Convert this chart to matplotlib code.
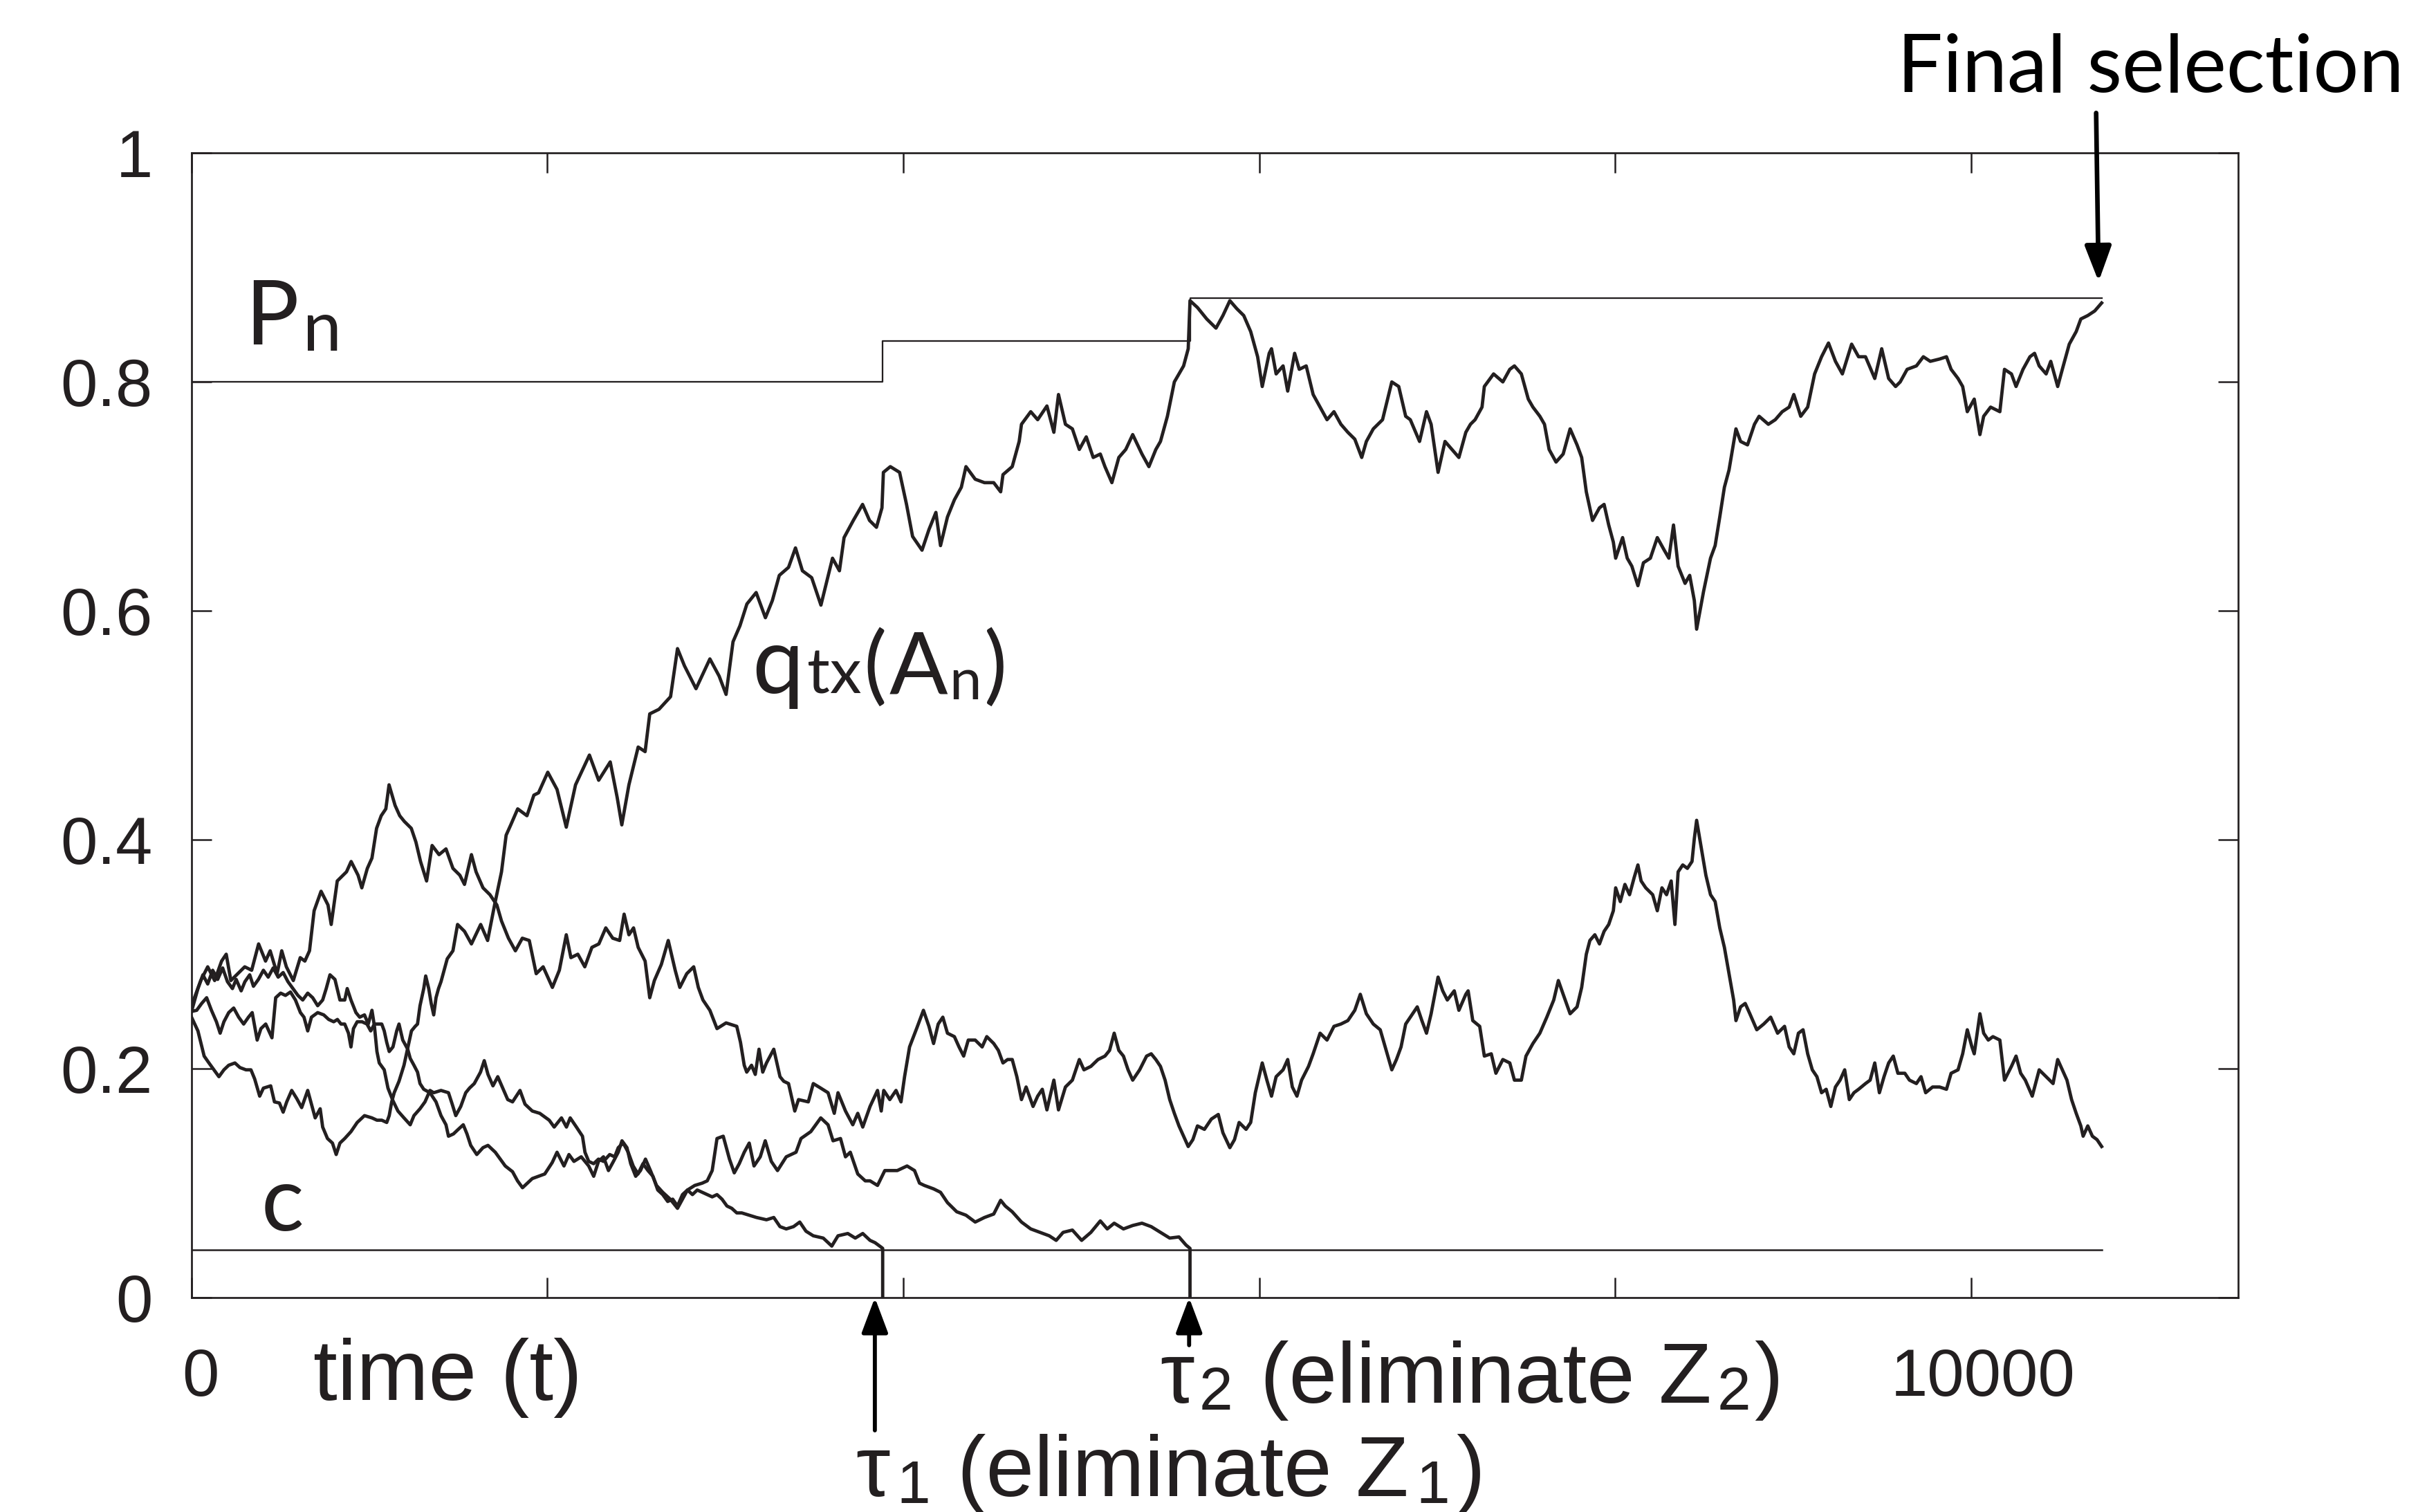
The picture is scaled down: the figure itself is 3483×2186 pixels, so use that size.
import matplotlib
matplotlib.use("Agg")
import matplotlib.pyplot as plt
from matplotlib.transforms import offset_copy

# ---------------- data ----------------
tau1 = 3884
tau2 = 5611
t_end = 10734

# q_tx(A_n): the surviving alternative
a_t = [0, 36, 71, 98, 126, 154, 182, 209, 244, 272,
       306, 334, 355, 383, 404, 445, 466, 494, 515, 535,
       563, 591, 619, 653, 674, 695, 723, 737, 764, 792,
       813, 834, 861, 896, 931, 972, 1014, 1042, 1069, 1097,
       1111, 1125, 1139, 1166, 1194, 1208, 1222, 1236, 1257, 1270,
       1284, 1305, 1316, 1333, 1347, 1361, 1374, 1388, 1402, 1423,
       1437, 1469, 1495, 1534, 1573, 1625, 1664, 1703, 1742, 1768,
       1794, 1833, 1885, 1924, 1950, 2002, 2054, 2106, 2158, 2236,
       2288, 2353, 2392, 2418, 2458, 2510, 2549, 2575, 2627, 2692,
       2731, 2770, 2835, 2913, 2965, 3004, 3043, 3082, 3121, 3173,
       3225, 3264, 3303, 3355, 3394, 3433, 3485, 3537, 3602, 3641,
       3667, 3719, 3771, 3810, 3849, 3880, 3888, 3927, 3979, 4018,
       4052, 4105, 4144, 4183, 4209, 4248, 4287, 4326, 4352, 4404,
       4456, 4508, 4547, 4560, 4612, 4651, 4664, 4716, 4755, 4807,
       4846, 4872, 4911, 4950, 4989, 5028, 5067, 5107, 5133, 5172,
       5211, 5250, 5289, 5341, 5380, 5419, 5445, 5484, 5523, 5575,
       5601, 5611, 5653, 5705, 5757, 5796, 5835, 5874, 5913, 5952,
       5991, 6017, 6056, 6069, 6095, 6134, 6160, 6199, 6225, 6264,
       6303, 6342, 6381, 6420, 6459, 6498, 6537, 6576, 6602, 6641,
       6693, 6745, 6784, 6823, 6849, 6901, 6940, 6966, 7005, 7044,
       7083, 7122, 7161, 7187, 7213, 7252, 7265, 7317, 7369, 7408,
       7434, 7473, 7512, 7538, 7577, 7603, 7629, 7668, 7708, 7747,
       7786, 7812, 7838, 7873, 7912, 7938, 7964, 7990, 8003, 8042,
       8068, 8094, 8128, 8159, 8198, 8237, 8276, 8302, 8328, 8354,
       8393, 8419, 8445, 8458, 8497, 8536, 8562, 8588, 8614, 8640,
       8679, 8705, 8744, 8783, 8809, 8861, 8900, 8939, 8978, 9004,
       9043, 9082, 9121, 9160, 9199, 9238, 9277, 9329, 9368, 9407,
       9459, 9498, 9537, 9576, 9602, 9641, 9693, 9732, 9771, 9823,
       9862, 9888, 9927, 9953, 9979, 10018, 10050, 10071, 10110, 10162,
       10188, 10227, 10253, 10292, 10331, 10357, 10383, 10422, 10448, 10487,
       10513, 10552, 10591, 10617, 10656, 10695, 10734]
a_v = [0.245, 0.233, 0.211, 0.205, 0.199, 0.193, 0.199, 0.203, 0.205, 0.201,
       0.199, 0.199, 0.191, 0.176, 0.183, 0.185, 0.171, 0.170, 0.162, 0.171,
       0.181, 0.174, 0.166, 0.181, 0.169, 0.157, 0.165, 0.149, 0.139, 0.135,
       0.125, 0.135, 0.139, 0.145, 0.153, 0.159, 0.157, 0.155, 0.155, 0.153,
       0.159, 0.171, 0.179, 0.189, 0.203, 0.213, 0.223, 0.233, 0.237, 0.239,
       0.255, 0.270, 0.281, 0.270, 0.257, 0.247, 0.262, 0.270, 0.276, 0.288,
       0.296, 0.303, 0.326, 0.320, 0.309, 0.326, 0.312, 0.343, 0.372, 0.404,
       0.413, 0.427, 0.421, 0.439, 0.441, 0.459, 0.444, 0.411, 0.448, 0.474,
       0.452, 0.468, 0.437, 0.413, 0.448, 0.481, 0.477, 0.510, 0.514, 0.525,
       0.567, 0.552, 0.532, 0.558, 0.543, 0.527, 0.573, 0.587, 0.606, 0.616,
       0.594, 0.609, 0.631, 0.638, 0.655, 0.635, 0.629, 0.605, 0.646, 0.635,
       0.664, 0.679, 0.693, 0.679, 0.673, 0.690, 0.721, 0.726, 0.721, 0.693,
       0.665, 0.653, 0.671, 0.686, 0.657, 0.682, 0.697, 0.708, 0.726, 0.715,
       0.712, 0.712, 0.704, 0.719, 0.726, 0.748, 0.763, 0.774, 0.767, 0.779,
       0.756, 0.789, 0.763, 0.759, 0.741, 0.752, 0.734, 0.737, 0.726, 0.712,
       0.734, 0.741, 0.754, 0.737, 0.726, 0.741, 0.748, 0.770, 0.800, 0.814,
       0.829, 0.871, 0.865, 0.855, 0.847, 0.858, 0.871, 0.864, 0.858, 0.844,
       0.822, 0.796, 0.825, 0.829, 0.807, 0.814, 0.792, 0.825, 0.811, 0.814,
       0.789, 0.778, 0.767, 0.774, 0.763, 0.756, 0.750, 0.734, 0.748, 0.759,
       0.767, 0.800, 0.796, 0.770, 0.767, 0.748, 0.774, 0.763, 0.721, 0.748,
       0.741, 0.734, 0.756, 0.763, 0.767, 0.778, 0.796, 0.807, 0.800, 0.811,
       0.814, 0.807, 0.785, 0.778, 0.770, 0.763, 0.741, 0.730, 0.737, 0.759,
       0.745, 0.734, 0.704, 0.679, 0.690, 0.693, 0.675, 0.660, 0.646, 0.664,
       0.646, 0.639, 0.622, 0.642, 0.646, 0.664, 0.653, 0.646, 0.675, 0.639,
       0.624, 0.631, 0.609, 0.584, 0.617, 0.646, 0.657, 0.682, 0.708, 0.723,
       0.759, 0.748, 0.745, 0.763, 0.770, 0.763, 0.767, 0.774, 0.778, 0.789,
       0.770, 0.778, 0.807, 0.822, 0.834, 0.818, 0.807, 0.833, 0.822, 0.822,
       0.803, 0.829, 0.803, 0.796, 0.800, 0.811, 0.814, 0.822, 0.818, 0.820,
       0.822, 0.811, 0.803, 0.796, 0.774, 0.785, 0.754, 0.770, 0.778, 0.774,
       0.811, 0.807, 0.796, 0.811, 0.822, 0.825, 0.814, 0.807, 0.818, 0.796,
       0.811, 0.833, 0.844, 0.855, 0.858, 0.862, 0.869]

# second survivor (ends near 0.13)
b_t = [0, 52, 91, 130, 169, 195, 221, 260, 299, 338,
       377, 416, 442, 481, 507, 533, 572, 611, 637, 663,
       689, 728, 767, 785, 819, 871, 897, 936, 957, 988,
       1014, 1040, 1066, 1092, 1110, 1144, 1170, 1196, 1235, 1261,
       1287, 1321, 1352, 1391, 1430, 1469, 1508, 1534, 1573, 1599,
       1638, 1677, 1716, 1742, 1781, 1820, 1859, 1898, 1937, 1976,
       2028, 2067, 2106, 2132, 2171, 2210, 2250, 2289, 2328, 2367,
       2406, 2431, 2458, 2484, 2510, 2549, 2575, 2601, 2640, 2679,
       2718, 2744, 2783, 2822, 2848, 2874, 2913, 2953, 3004, 3064,
       3085, 3106, 3120, 3147, 3168, 3189, 3210, 3231, 3272, 3307,
       3328, 3355, 3390, 3411, 3466, 3494, 3536, 3577, 3612, 3633,
       3675, 3716, 3744, 3772, 3813, 3855, 3876, 3890, 3924, 3959,
       3987, 4007, 4035, 4077, 4113, 4144, 4170, 4196, 4222, 4248,
       4287, 4313, 4339, 4365, 4404, 4443, 4469, 4508, 4534, 4560,
       4586, 4612, 4638, 4664, 4690, 4729, 4755, 4781, 4807, 4846,
       4872, 4911, 4950, 4989, 5015, 5054, 5094, 5133, 5159, 5185,
       5211, 5237, 5263, 5289, 5328, 5367, 5393, 5419, 5445, 5471,
       5497, 5523, 5549, 5575, 5601, 5627, 5653, 5692, 5731, 5770,
       5796, 5835, 5861, 5887, 5926, 5952, 5978, 6017, 6043, 6069,
       6095, 6134, 6160, 6186, 6212, 6238, 6277, 6303, 6342, 6381,
       6420, 6459, 6498, 6537, 6568, 6602, 6641, 6680, 6719, 6745,
       6771, 6797, 6823, 6862, 6888, 6914, 6940, 6966, 7005, 7031,
       7057, 7096, 7122, 7161, 7174, 7200, 7239, 7265, 7304, 7330,
       7369, 7408, 7434, 7473, 7499, 7538, 7577, 7616, 7655, 7681,
       7708, 7747, 7786, 7812, 7838, 7858, 7886, 7912, 7938, 7964,
       7990, 8003, 8029, 8055, 8081, 8107, 8128, 8146, 8172, 8211,
       8237, 8263, 8289, 8315, 8336, 8354, 8380, 8406, 8432, 8445,
       8458, 8484, 8510, 8536, 8562, 8588, 8614, 8640, 8666, 8679,
       8705, 8731, 8757, 8796, 8835, 8874, 8913, 8952, 8978, 9004,
       9030, 9056, 9082, 9108, 9134, 9160, 9186, 9212, 9238, 9264,
       9290, 9316, 9342, 9368, 9407, 9433, 9459, 9485, 9511, 9537,
       9563, 9589, 9628, 9654, 9693, 9719, 9745, 9784, 9823, 9862,
       9888, 9927, 9953, 9979, 10005, 10018, 10050, 10071, 10097, 10123,
       10162, 10188, 10227, 10253, 10279, 10305, 10344, 10383, 10422, 10461,
       10487, 10513, 10539, 10565, 10591, 10617, 10630, 10656, 10682, 10708,
       10734]
b_v = [0.255, 0.277, 0.289, 0.277, 0.294, 0.300, 0.277, 0.283, 0.289, 0.286,
       0.309, 0.294, 0.303, 0.283, 0.303, 0.289, 0.277, 0.297, 0.294, 0.303,
       0.338, 0.355, 0.343, 0.326, 0.364, 0.372, 0.381, 0.369, 0.358, 0.375,
       0.384, 0.410, 0.421, 0.427, 0.448, 0.430, 0.421, 0.416, 0.410, 0.398,
       0.381, 0.364, 0.395, 0.387, 0.392, 0.375, 0.369, 0.361, 0.387, 0.372,
       0.358, 0.352, 0.343, 0.329, 0.314, 0.303, 0.314, 0.312, 0.283, 0.289,
       0.271, 0.286, 0.317, 0.297, 0.300, 0.289, 0.306, 0.309, 0.323, 0.314,
       0.312, 0.335, 0.317, 0.323, 0.306, 0.294, 0.262, 0.277, 0.291, 0.312,
       0.286, 0.271, 0.283, 0.289, 0.271, 0.260, 0.251, 0.235, 0.240, 0.237,
       0.223, 0.203, 0.197, 0.203, 0.195, 0.217, 0.197, 0.205, 0.217, 0.193,
       0.189, 0.187, 0.163, 0.173, 0.171, 0.187, 0.183, 0.179, 0.161, 0.179,
       0.163, 0.151, 0.161, 0.149, 0.167, 0.181, 0.163, 0.181, 0.173, 0.181,
       0.171, 0.193, 0.219, 0.236, 0.251, 0.237, 0.222, 0.239, 0.245, 0.231,
       0.228, 0.219, 0.211, 0.225, 0.225, 0.219, 0.228, 0.222, 0.216, 0.205,
       0.208, 0.208, 0.193, 0.173, 0.184, 0.167, 0.176, 0.182, 0.164, 0.190,
       0.164, 0.184, 0.190, 0.208, 0.199, 0.202, 0.208, 0.211, 0.216, 0.231,
       0.216, 0.211, 0.199, 0.190, 0.199, 0.211, 0.213, 0.208, 0.202, 0.190,
       0.173, 0.161, 0.150, 0.141, 0.132, 0.138, 0.150, 0.147, 0.156, 0.160,
       0.144, 0.131, 0.138, 0.153, 0.147, 0.153, 0.179, 0.205, 0.190, 0.176,
       0.193, 0.199, 0.208, 0.184, 0.176, 0.190, 0.202, 0.213, 0.231, 0.225,
       0.237, 0.239, 0.242, 0.251, 0.265, 0.248, 0.239, 0.234, 0.213, 0.199,
       0.208, 0.219, 0.239, 0.248, 0.254, 0.242, 0.231, 0.248, 0.280, 0.268,
       0.260, 0.268, 0.251, 0.265, 0.268, 0.242, 0.237, 0.211, 0.213, 0.196,
       0.208, 0.205, 0.190, 0.190, 0.211, 0.222, 0.231, 0.245, 0.260, 0.277,
       0.265, 0.248, 0.254, 0.271, 0.300, 0.312, 0.317, 0.309, 0.320, 0.326,
       0.338, 0.358, 0.346, 0.361, 0.352, 0.367, 0.378, 0.364, 0.358, 0.352,
       0.338, 0.358, 0.352, 0.364, 0.326, 0.372, 0.378, 0.375, 0.381, 0.401,
       0.417, 0.393, 0.369, 0.352, 0.346, 0.323, 0.306, 0.283, 0.260, 0.242,
       0.254, 0.257, 0.248, 0.234, 0.239, 0.245, 0.231, 0.237, 0.219, 0.213,
       0.231, 0.234, 0.213, 0.199, 0.193, 0.179, 0.182, 0.167, 0.184, 0.190,
       0.199, 0.173, 0.179, 0.182, 0.187, 0.190, 0.205, 0.179, 0.193, 0.205,
       0.211, 0.196, 0.196, 0.190, 0.187, 0.193, 0.179, 0.184, 0.184, 0.182,
       0.196, 0.199, 0.213, 0.234, 0.219, 0.213, 0.248, 0.231, 0.225, 0.228,
       0.225, 0.190, 0.202, 0.211, 0.196, 0.190, 0.176, 0.199, 0.193, 0.187,
       0.208, 0.199, 0.190, 0.173, 0.161, 0.150, 0.141, 0.150, 0.141, 0.138,
       0.132]

# eliminated at tau1 (Z1)
c_t = [0, 36, 64, 91, 119, 147, 175, 202, 230, 251,
       279, 300, 327, 348, 376, 404, 431, 459, 487, 515,
       542, 570, 598, 625, 653, 681, 709, 737, 757, 778,
       806, 834, 861, 875, 896, 924, 945, 972, 993, 1014,
       1028, 1042, 1055, 1083, 1104, 1132, 1160, 1194, 1229, 1250,
       1284, 1312, 1340, 1361, 1402, 1444, 1465, 1485, 1513, 1541,
       1562, 1589, 1624, 1645, 1666, 1694, 1721, 1749, 1777, 1804,
       1846, 1874, 1915, 1957, 2010, 2038, 2079, 2107, 2128, 2163,
       2197, 2211, 2232, 2260, 2287, 2315, 2350, 2378, 2398, 2426,
       2454, 2482, 2509, 2537, 2565, 2593, 2620, 2648, 2676, 2704,
       2731, 2759, 2787, 2815, 2842, 2870, 2898, 2926, 2953, 2981,
       3009, 3036, 3064, 3092, 3134, 3175, 3231, 3272, 3307, 3342,
       3383, 3418, 3453, 3494, 3550, 3598, 3633, 3688, 3730, 3772,
       3813, 3841, 3876, 3884, 3884]
c_v = [0.250, 0.270, 0.282, 0.274, 0.286, 0.278, 0.288, 0.276, 0.270, 0.278,
       0.268, 0.276, 0.282, 0.272, 0.278, 0.286, 0.280, 0.288, 0.280, 0.284,
       0.276, 0.270, 0.264, 0.260, 0.266, 0.262, 0.255, 0.260, 0.270, 0.282,
       0.278, 0.260, 0.260, 0.270, 0.260, 0.249, 0.245, 0.247, 0.239, 0.251,
       0.237, 0.215, 0.205, 0.199, 0.183, 0.172, 0.163, 0.157, 0.151, 0.159,
       0.165, 0.171, 0.181, 0.179, 0.181, 0.179, 0.169, 0.159, 0.167, 0.179,
       0.183, 0.187, 0.197, 0.207, 0.195, 0.185, 0.193, 0.183, 0.173, 0.171,
       0.181, 0.169, 0.163, 0.161, 0.155, 0.149, 0.157, 0.149, 0.157, 0.149,
       0.141, 0.127, 0.119, 0.117, 0.121, 0.119, 0.125, 0.123, 0.131, 0.135,
       0.127, 0.115, 0.108, 0.117, 0.111, 0.106, 0.094, 0.090, 0.084, 0.086,
       0.080, 0.090, 0.094, 0.090, 0.094, 0.092, 0.090, 0.088, 0.090, 0.086,
       0.080, 0.078, 0.074, 0.074, 0.072, 0.070, 0.068, 0.070, 0.062, 0.060,
       0.062, 0.066, 0.058, 0.054, 0.052, 0.045, 0.054, 0.056, 0.052, 0.056,
       0.050, 0.048, 0.044, 0.043, 0.0]

# eliminated at tau2 (Z2)
d_t = [0, 29, 57, 85, 112, 140, 161, 182, 209, 237,
       265, 293, 320, 341, 369, 390, 417, 452, 473, 501,
       528, 556, 584, 612, 632, 653, 674, 709, 743, 771,
       799, 820, 840, 861, 882, 896, 910, 931, 958, 986,
       1007, 1028, 1069, 1083, 1097, 1111, 1132, 1153, 1166, 1187,
       1201, 1215, 1229, 1250, 1270, 1284, 1305, 1340, 1374, 1402,
       1430, 1444, 1472, 1499, 1527, 1548, 1569, 1603, 1638, 1666,
       1707, 1735, 1763, 1804, 1832, 1860, 1915, 1985, 2027, 2054,
       2093, 2121, 2149, 2190, 2232, 2260, 2287, 2315, 2343, 2371,
       2398, 2419, 2447, 2468, 2496, 2523, 2551, 2579, 2613, 2648,
       2690, 2731, 2759, 2787, 2828, 2870, 2898, 2926, 2953, 2988,
       3023, 3050, 3078, 3106, 3134, 3161, 3196, 3224, 3258, 3293,
       3342, 3397, 3425, 3480, 3536, 3577, 3605, 3647, 3675, 3702,
       3744, 3786, 3813, 3855, 3896, 3966, 4021, 4063, 4091, 4118,
       4170, 4209, 4248, 4300, 4352, 4404, 4456, 4508, 4547, 4573,
       4612, 4664, 4716, 4768, 4820, 4859, 4898, 4950, 5002, 5054,
       5107, 5146, 5185, 5237, 5289, 5341, 5393, 5445, 5497, 5549,
       5588, 5611, 5611]
d_v = [0.250, 0.251, 0.257, 0.262, 0.251, 0.241, 0.231, 0.241, 0.249, 0.253,
       0.245, 0.239, 0.245, 0.249, 0.225, 0.235, 0.239, 0.227, 0.262, 0.266,
       0.264, 0.267, 0.260, 0.249, 0.245, 0.233, 0.245, 0.249, 0.247, 0.243,
       0.241, 0.243, 0.239, 0.239, 0.231, 0.219, 0.235, 0.241, 0.241, 0.239,
       0.233, 0.239, 0.239, 0.233, 0.223, 0.215, 0.219, 0.233, 0.239, 0.225,
       0.221, 0.217, 0.209, 0.203, 0.197, 0.187, 0.182, 0.179, 0.171, 0.159,
       0.151, 0.141, 0.143, 0.147, 0.151, 0.143, 0.133, 0.125, 0.131, 0.133,
       0.127, 0.121, 0.115, 0.110, 0.102, 0.096, 0.104, 0.108, 0.118, 0.127,
       0.115, 0.125, 0.119, 0.123, 0.115, 0.106, 0.119, 0.123, 0.111, 0.119,
       0.127, 0.137, 0.131, 0.117, 0.106, 0.111, 0.121, 0.111, 0.098, 0.092,
       0.086, 0.078, 0.086, 0.094, 0.098, 0.100, 0.102, 0.111, 0.139, 0.141,
       0.121, 0.109, 0.117, 0.127, 0.135, 0.115, 0.123, 0.137, 0.119, 0.111,
       0.123, 0.127, 0.139, 0.145, 0.157, 0.151, 0.137, 0.139, 0.123, 0.127,
       0.108, 0.102, 0.102, 0.098, 0.111, 0.111, 0.115, 0.111, 0.100, 0.098,
       0.095, 0.092, 0.083, 0.075, 0.072, 0.066, 0.070, 0.073, 0.085, 0.080,
       0.075, 0.066, 0.060, 0.057, 0.054, 0.050, 0.057, 0.059, 0.050, 0.057,
       0.067, 0.060, 0.065, 0.060, 0.063, 0.065, 0.062, 0.057, 0.052, 0.053,
       0.046, 0.043, 0.0]

# threshold P_n (steps at each elimination) and the constant c
pn_t = [0, tau1, tau2, t_end]
pn_v = [0.800, 0.836, 0.8735, 0.8735]
c_level = 0.042

x_ticks = [0, 2000, 4000, 6000, 8000, 10000]
y_ticks = [0, 0.2, 0.4, 0.6, 0.8, 1.0]
y_labels = ["0", "0.2", "0.4", "0.6", "0.8", "1"]

# ---------------- figure ----------------
ink = "#231f20"
fig = plt.figure(figsize=(3483 / 300, 2186 / 300), dpi=300)
ax = fig.add_axes([0.0795, 0.1418, 0.8495, 0.7570])

for tt, vv in [(a_t, a_v), (b_t, b_v), (c_t, c_v), (d_t, d_v)]:
    ax.plot(tt, vv, color=ink, lw=1.15)
ax.plot(pn_t, pn_v, color=ink, lw=0.55, drawstyle="steps-post")
ax.plot([0, t_end], [c_level, c_level], color=ink, lw=0.6)

ax.set_xlim(0, 11500)
ax.set_ylim(0, 1)
ax.set_xticks(x_ticks)
ax.set_xticklabels([])
ax.set_yticks(y_ticks)
ax.set_yticklabels(y_labels, fontfamily="Liberation Sans", fontsize=23)
ax.tick_params(direction="in", length=7, width=0.6, top=True, right=True,
               color=ink, labelcolor=ink)
ax.tick_params(axis="y", pad=13.5)
for sp in ax.spines.values():
    sp.set_linewidth(0.65)
    sp.set_color(ink)

# x labels only at 0 and 10000 (slightly right of the ticks, as in the original)
ax.text(51, -0.0858, "0", ha="center", va="baseline", fontsize=23,
        family="Liberation Sans", color=ink, clip_on=False)
ax.text(10069, -0.0858, "10000", ha="center", va="baseline", fontsize=23,
        family="Liberation Sans", color=ink, clip_on=False)
ax.text(684, -0.0894, "time (t)", ha="left", va="baseline", fontsize=30,
        family="Liberation Sans", color=ink, clip_on=False)

renderer = fig.canvas.get_renderer()


def runs(x, y, parts, family):
    # parts: (text, size, gap before in pt, baseline shift in pt)
    shift = 0.0
    for s, size, gap, dy in parts:
        shift += gap
        tr = offset_copy(ax.transData, fig=fig, x=shift, y=dy, units="points")
        t = ax.text(x, y, s, transform=tr, fontsize=size, family=family,
                    ha="left", va="baseline", color=ink, clip_on=False)
        shift += t.get_window_extent(renderer).width * 72.0 / fig.dpi


runs(300, 0.8327, [("P", 31, 0, 0), ("n", 24, 1.5, -2.2)], "Lato")
runs(3151, 0.528, [("q", 32, 0, 0), ("tx", 22, 1.2, 0), ("(", 30, 0.6, 0),
                   ("A", 30, 1.0, 0), ("n", 20, 0.5, -2.2), (")", 30, 0.8, 0)],
     "Lato")
ax.text(390, 0.0588, "c", fontsize=31, family="Lato", ha="left",
        va="baseline", color=ink)

runs(3734, -0.1734, [("τ", 30, 0, 0), ("1", 21, 2.2, -2.4),
                     ("(eliminate Z", 30, 9.5, 0), ("1", 21, 2.4, -2.4),
                     (")", 30, 2.4, 0)], "Liberation Sans")
runs(5443, -0.0918, [("τ", 30, 0, 0), ("2", 21, 1.6, -2.4),
                     ("(eliminate Z", 30, 9.5, 0), ("2", 21, 2.0, -2.4),
                     (")", 30, 1.2, 0)], "Liberation Sans")

arrow = dict(arrowstyle="-|>,head_length=0.4,head_width=0.15",
             mutation_scale=26, lw=1.4, color="black", shrinkA=0, shrinkB=0)
ax.annotate("", xy=(3840, 0), xytext=(3840, -0.116), arrowprops=arrow,
            annotation_clip=False)
ax.annotate("", xy=(5606, 0), xytext=(5606, -0.0416), arrowprops=arrow,
            annotation_clip=False)
ax.annotate("", xy=(10717, 0.8877), xytext=(10703, 1.035),
            arrowprops=dict(arrow, lw=1.6), annotation_clip=False)

fig.text(0.998, 0.9392, "Final selection", fontsize=28, family="Lato",
         ha="right", va="baseline", color="black")

fig.savefig("out.png", dpi=300)
